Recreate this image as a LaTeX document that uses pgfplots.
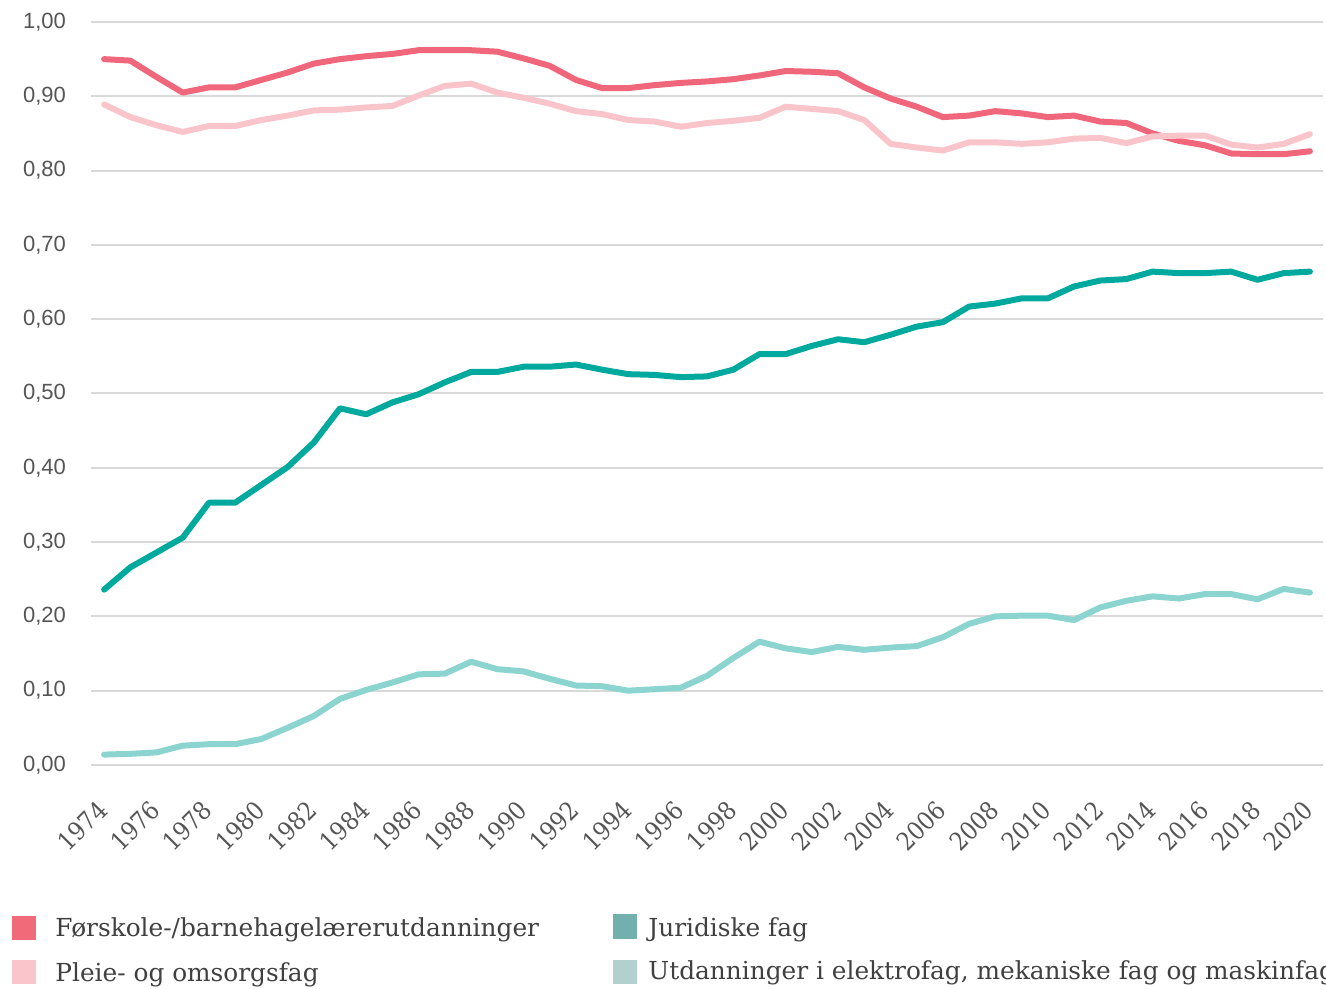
\documentclass[border=0pt]{standalone}
\usepackage{fontspec}
\usepackage{pgfplots}
\pgfplotsset{compat=1.18}
\usepackage{pgfplotstable}
\setmainfont{Liberation Sans}
\newfontfamily\slabfont{DejaVu Serif}
\newfontfamily\tickslab[FakeStretch=0.9]{DejaVu Serif}
\definecolor{cRed}{HTML}{F0677B}
\definecolor{cPink}{HTML}{F9C4CA}
\definecolor{cTeal}{HTML}{00A99D}
\definecolor{cLTeal}{HTML}{8BD4CF}
\definecolor{lRed}{HTML}{F06A7A}
\definecolor{lPink}{HTML}{FAC5CB}
\definecolor{lTeal}{HTML}{72B0AE}
\definecolor{lLTeal}{HTML}{B2D0CE}
\definecolor{gridc}{HTML}{D9D9D9}
\definecolor{tickc}{HTML}{555555}
\definecolor{legc}{HTML}{404040}
\pgfplotstableread{
year F P J U
1974 0.950 0.889 0.236 0.014
1975 0.948 0.872 0.266 0.015
1976 0.926 0.861 0.286 0.017
1977 0.905 0.852 0.306 0.026
1978 0.912 0.860 0.353 0.028
1979 0.912 0.860 0.353 0.028
1980 0.922 0.868 0.377 0.035
1981 0.932 0.874 0.401 0.050
1982 0.944 0.881 0.434 0.066
1983 0.950 0.882 0.480 0.089
1984 0.954 0.885 0.472 0.101
1985 0.957 0.887 0.488 0.111
1986 0.962 0.901 0.499 0.122
1987 0.962 0.914 0.515 0.123
1988 0.962 0.917 0.529 0.139
1989 0.960 0.905 0.529 0.129
1990 0.951 0.898 0.536 0.126
1991 0.941 0.890 0.536 0.116
1992 0.922 0.880 0.539 0.107
1993 0.911 0.876 0.532 0.106
1994 0.911 0.868 0.526 0.100
1995 0.915 0.866 0.525 0.102
1996 0.918 0.859 0.522 0.104
1997 0.920 0.864 0.523 0.120
1998 0.923 0.867 0.532 0.144
1999 0.928 0.871 0.553 0.166
2000 0.934 0.886 0.553 0.157
2001 0.933 0.883 0.564 0.152
2002 0.931 0.880 0.573 0.159
2003 0.912 0.868 0.569 0.155
2004 0.897 0.836 0.579 0.158
2005 0.886 0.831 0.590 0.160
2006 0.872 0.827 0.596 0.172
2007 0.874 0.838 0.617 0.190
2008 0.880 0.838 0.621 0.200
2009 0.877 0.836 0.628 0.201
2010 0.872 0.838 0.628 0.201
2011 0.874 0.843 0.644 0.195
2012 0.866 0.844 0.652 0.212
2013 0.864 0.837 0.654 0.221
2014 0.850 0.846 0.664 0.227
2015 0.840 0.847 0.662 0.224
2016 0.834 0.847 0.662 0.230
2017 0.823 0.835 0.664 0.230
2018 0.822 0.831 0.653 0.223
2019 0.822 0.836 0.662 0.237
2020 0.826 0.849 0.664 0.232
}\datatable
\begin{document}
\begin{tikzpicture}
\useasboundingbox (0,0) rectangle (663pt,494.5pt);
\clip (0,0) rectangle (663pt,494.5pt);
\begin{axis}[
  at={(45.5pt,112pt)}, anchor=south west,
  scale only axis, width=616pt, height=371.5pt,
  xmin=1973.5, xmax=2020.5, ymin=0, ymax=1,
  axis line style={draw=none},
  major tick style={draw=none},
  ytick={0,0.1,...,1.0},
  xtick={1974,1976,...,2020},
  ymajorgrids, grid style={gridc, line width=1pt},
  xticklabel={\pgfmathprintnumber[1000 sep={}]{\tick}},
  xticklabel style={xshift=-4pt, yshift=-12pt, rotate=45, anchor=north east, font=\tickslab\fontsize{12.5pt}{14pt}\selectfont, text=tickc},
  yticklabel style={font=\fontsize{11pt}{13pt}\selectfont, text=tickc, xshift=-9pt,
    /pgf/number format/.cd, fixed, fixed zerofill, precision=2, use comma},
  /pgf/number format/assume math mode=true,
  every axis plot/.append style={line width=3pt, line join=round, line cap=round},
]
\addplot[cRed] table[x=year, y=F] {\datatable};
\addplot[cPink] table[x=year, y=P] {\datatable};
\addplot[cTeal] table[x=year, y=J] {\datatable};
\addplot[cLTeal] table[x=year, y=U] {\datatable};
\end{axis}
\fill[lRed] (6pt,24.5pt) rectangle (18pt,36.5pt);
\fill[lPink] (6pt,2.5pt) rectangle (18pt,14.5pt);
\fill[lTeal] (306.5pt,25pt) rectangle (318.5pt,37.5pt);
\fill[lLTeal] (306.5pt,2.5pt) rectangle (318.5pt,14.5pt);
\node[anchor=base west, inner sep=0pt, text=legc, font=\slabfont\fontsize{12.4pt}{14pt}\selectfont] at (27.5pt,26pt) {Førskole-/barnehagelærerutdanninger};
\node[anchor=base west, inner sep=0pt, text=legc, font=\slabfont\fontsize{12.4pt}{14pt}\selectfont] at (27.5pt,3.5pt) {Pleie- og omsorgsfag};
\node[anchor=base west, inner sep=0pt, text=legc, font=\slabfont\fontsize{12.4pt}{14pt}\selectfont] at (324pt,26pt) {Juridiske fag};
\node[anchor=base west, inner sep=0pt, text=legc, font=\slabfont\fontsize{12.4pt}{14pt}\selectfont] at (324pt,4.5pt) {Utdanninger i elektrofag, mekaniske fag og maskinfag};
\end{tikzpicture}
\end{document}
